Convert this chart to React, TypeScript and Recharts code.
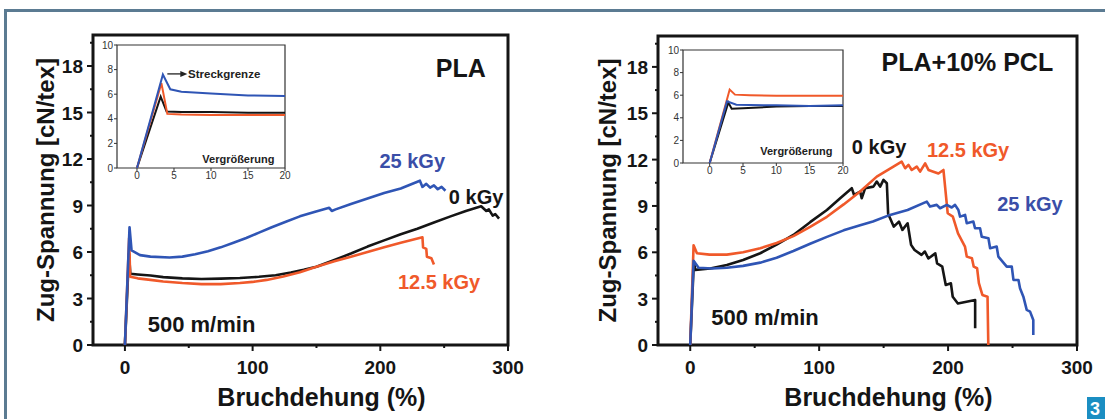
import { LineChart, Line, XAxis, YAxis, ReferenceArea, ReferenceDot } from "recharts";

type Pt = { x: number; y: number };
const pts = (arr: number[][]): Pt[] => arr.map(([x, y]) => ({ x, y }));

// PLA, main chart
const pla0 = pts([[0, 0], [3.2, 5.9], [4.2, 4.6], [10, 4.55], [20, 4.48], [30, 4.38], [45, 4.3], [60, 4.26], [75, 4.28], [90, 4.32], [105, 4.4], [118, 4.5], [130, 4.68], [140, 4.85], [150, 5.05], [163, 5.45], [177, 5.9], [190, 6.35], [203, 6.75], [216, 7.15], [229, 7.5], [242, 7.9], [255, 8.3], [267, 8.65], [279, 8.95], [283, 8.65], [285, 8.75], [288, 8.35], [290, 8.45], [293, 8.15]]);
const pla125 = pts([[0, 0], [3.3, 6.9], [4.1, 4.4], [10, 4.3], [20, 4.2], [30, 4.1], [45, 4.0], [60, 3.93], [75, 3.93], [90, 4.0], [100, 4.07], [111, 4.2], [124, 4.42], [137, 4.7], [150, 5.05], [164, 5.4], [177, 5.7], [190, 6.0], [203, 6.3], [216, 6.6], [233, 6.95], [233.5, 6.3], [236, 6.2], [236.5, 5.7], [240, 5.6], [242, 5.2]]);
const pla25 = pts([[0, 0], [3.6, 7.6], [5.2, 6.1], [11.8, 5.8], [20, 5.7], [35, 5.65], [45, 5.7], [55, 5.85], [65, 6.05], [75, 6.3], [85, 6.6], [95, 6.9], [105, 7.25], [115, 7.6], [126, 7.95], [137, 8.3], [149, 8.6], [160, 8.85], [162, 8.65], [165, 8.75], [177, 9.1], [190, 9.45], [203, 9.8], [216, 10.1], [231, 10.6], [233, 10.2], [236, 10.4], [239, 10.15], [242, 10.3], [245, 10.05], [248, 10.2], [251, 9.95]]);

// PLA, inset (Vergrößerung)
const plaIn0 = pts([[0, 0], [3.2, 5.8], [4.0, 4.6], [6, 4.55], [10, 4.55], [15, 4.5], [20, 4.5]]);
const plaIn125 = pts([[0, 0], [3.3, 6.9], [4.1, 4.4], [6, 4.35], [10, 4.3], [15, 4.3], [20, 4.3]]);
const plaIn25 = pts([[0, 0], [3.5, 7.6], [4.5, 6.4], [6, 6.2], [10, 6.05], [15, 5.9], [20, 5.85]]);

// PLA+10% PCL, main chart
const pcl0 = pts([[0, 0], [2.8, 5.4], [3.9, 4.86], [15.5, 4.95], [28.4, 5.18], [41, 5.5], [54.3, 5.94], [67, 6.5], [80, 7.12], [93, 7.95], [106, 8.74], [116.3, 9.5], [125.3, 10.15], [127.1, 9.71], [131.8, 9.93], [133, 9.5], [135.7, 10.15], [142.1, 10.25], [144.7, 10.58], [147.3, 10.25], [149.9, 10.69], [152.5, 10.47], [153.5, 8.5], [157.9, 7.66], [161.9, 7.99], [164.6, 7.45], [168.6, 7.88], [171.3, 6.48], [174, 6.15], [179.4, 5.83], [182, 6.05], [184.7, 5.6], [190.1, 5.93], [191.5, 5.28], [195.5, 5.07], [198.2, 3.88], [202.2, 3.99], [203.6, 3.12], [207.6, 2.69], [221, 2.91], [221, 1.08]]);
const pcl125 = pts([[0, 0], [2.6, 6.45], [5.2, 5.94], [15, 5.85], [28.4, 5.85], [41, 6.0], [54.3, 6.26], [67, 6.6], [80, 7.05], [93, 7.65], [106, 8.3], [119, 9.1], [131.8, 9.93], [144.7, 10.9], [157.6, 11.55], [164, 11.87], [166.7, 11.44], [169.3, 11.66], [171.8, 11.33], [175.7, 11.55], [178.3, 11.22], [182.2, 11.76], [184.8, 11.33], [188.6, 11.22], [192.5, 11.1], [196.4, 11.33], [199.7, 8.53], [203.7, 8.31], [207.7, 7.23], [213.1, 6.37], [214.5, 5.72], [218.5, 5.61], [219.9, 5.07], [222.5, 4.97], [223.9, 4.0], [226.6, 3.24], [230.6, 3.13], [231.2, 0]]);
const pcl25 = pts([[0, 0], [2.6, 5.45], [6.5, 5.0], [17, 4.95], [28.4, 5.0], [41, 5.12], [54.3, 5.33], [67, 5.65], [80, 6.08], [93, 6.55], [106, 7.0], [119, 7.42], [131.8, 7.75], [141.7, 7.99], [155, 8.42], [168.6, 8.74], [183.5, 9.28], [186, 8.96], [191.2, 9.07], [193.8, 8.85], [199, 9.07], [202.8, 8.9], [205.4, 9.07], [208, 8.74], [209.3, 8.31], [213.2, 8.42], [214.5, 7.88], [219.6, 7.99], [220.9, 7.56], [224.8, 7.56], [226.1, 7.0], [231.3, 6.91], [232.6, 6.26], [237.7, 6.37], [239, 5.72], [245.5, 5.07], [249.4, 5.07], [250.7, 4.21], [254.6, 4.21], [255.8, 3.67], [258.4, 3.13], [261, 2.27], [263.6, 2.16], [266.1, 1.62], [266.1, 0.65]]);

// PLA+10% PCL, inset
const pclIn0 = pts([[0, 0], [2.8, 5.35], [3.3, 4.8], [5, 4.85], [10, 5.0], [15, 5.05], [20, 5.05]]);
const pclIn125 = pts([[0, 0], [3.0, 6.5], [3.8, 6.05], [6, 6.0], [10, 5.95], [20, 5.95]]);
const pclIn25 = pts([[0, 0], [2.6, 5.45], [4, 5.15], [10, 5.1], [15, 5.05], [20, 5.1]]);

const mainXTicks = [0, 50, 100, 150, 200, 250, 300];
const mainYTicks = [0, 1.5, 3, 4.5, 6, 7.5, 9, 10.5, 12, 13.5, 15, 16.5, 18, 19.5];
const insetXTicks = [0, 5, 10, 15, 20];
const insetYTicks = [0, 2, 4, 6, 8, 10];

const BLACK = "#151515";
const ORANGE = "#f0592a";
const BLUE = "#2f55b5";
const FONT = "'Liberation Sans', Arial, sans-serif";

type Note = { x: number; y: number; text: string; color: string; size: number; anchor?: "start" | "middle" | "end" };

const plaNotes: Note[] = [
  { x: 263, y: 17.9, text: "PLA", color: BLACK, size: 25 },
  { x: 225, y: 11.9, text: "25 kGy", color: "#3a4ea8", size: 20 },
  { x: 275, y: 9.55, text: "0 kGy", color: BLACK, size: 20 },
  { x: 246, y: 4.06, text: "12.5 kGy", color: ORANGE, size: 20 },
  { x: 60, y: 1.3, text: "500 m/min", color: BLACK, size: 22 },
];
const pclNotes: Note[] = [
  { x: 215, y: 18.3, text: "PLA+10% PCL", color: BLACK, size: 25 },
  { x: 146.5, y: 12.8, text: "0 kGy", color: BLACK, size: 20 },
  { x: 215.5, y: 12.6, text: "12.5 kGy", color: ORANGE, size: 20 },
  { x: 263.5, y: 9.13, text: "25 kGy", color: "#3a4ea8", size: 20 },
  { x: 58, y: 1.8, text: "500 m/min", color: BLACK, size: 22 },
];
const plaInsetNotes: Note[] = [
  { x: 6.9, y: 7.65, text: "Streckgrenze", color: "#222", size: 11.5, anchor: "start" },
  { x: 13.7, y: 0.75, text: "Vergrößerung", color: "#222", size: 11 },
];
const pclInsetNotes: Note[] = [
  { x: 13, y: 1.05, text: "Vergrößerung", color: "#222", size: 11 },
];

const MainXTick = ({ x, y, payload }: any) => {
  const major = payload.value % 100 === 0;
  return (
    <g>
      <line x1={x} x2={x} y1={y} y2={y + (major ? 6 : 3)} stroke={BLACK} strokeWidth={2} />
      {major && (
        <text x={x} y={y + 29} textAnchor="middle" fontSize={19} fontWeight={700} fontFamily={FONT} fill={BLACK}>
          {payload.value}
        </text>
      )}
    </g>
  );
};

const MainYTick = ({ x, y, payload }: any) => {
  const major = payload.value % 3 === 0;
  return (
    <g>
      <line x1={x - (major ? 6 : 3)} x2={x} y1={y} y2={y} stroke={BLACK} strokeWidth={2} />
      {major && (
        <text x={x - 10} y={y + 7} textAnchor="end" fontSize={19} fontWeight={700} fontFamily={FONT} fill={BLACK}>
          {payload.value}
        </text>
      )}
    </g>
  );
};

const noteShape = (n: Note) => (props: any) => (
  <text
    x={props.cx}
    y={props.cy}
    textAnchor={n.anchor || "middle"}
    dominantBaseline="central"
    fontSize={n.size}
    fontWeight={700}
    fontFamily={FONT}
    fill={n.color}
  >
    {n.text}
  </text>
);

type PanelProps = {
  left: number;
  width: number;
  top: number;
  marginLeft: number;
  marginRight: number;
  yLabelDx: number;
  series: Pt[][];
  notes: Note[];
};

function MainPanel({ left, width, top, marginLeft, marginRight, yLabelDx, series, notes }: PanelProps) {
  const colors = [BLACK, ORANGE, BLUE];
  return (
    <div style={{ position: "absolute", left, top: 0 }}>
      <LineChart width={width} height={419} margin={{ top, right: marginRight, bottom: 24, left: marginLeft }}>
        <XAxis
          type="number"
          dataKey="x"
          domain={[-25, 300]}
          allowDataOverflow
          ticks={mainXTicks}
          interval={0}
          height={50}
          tickSize={0}
          tickMargin={0}
          axisLine={false}
          tickLine={false}
          tick={<MainXTick />}
          label={(p: any) => (
            <text
              x={p.viewBox.x + p.viewBox.width / 2 + 21}
              y={p.viewBox.y + 61}
              textAnchor="middle"
              fontSize={25}
              fontWeight={700}
              fontFamily={FONT}
              fill={BLACK}
            >
              Bruchdehung (%)
            </text>
          )}
        />
        <YAxis
          type="number"
          domain={[0, 20]}
          allowDataOverflow
          ticks={mainYTicks}
          interval={0}
          width={60}
          tickSize={0}
          tickMargin={0}
          axisLine={false}
          tickLine={false}
          tick={<MainYTick />}
          label={(p: any) => {
            const cx = p.viewBox.x + yLabelDx;
            const cy = p.viewBox.y + p.viewBox.height / 2;
            return (
              <text
                x={cx}
                y={cy}
                transform={`rotate(-90 ${cx} ${cy})`}
                textAnchor="middle"
                dominantBaseline="central"
                fontSize={24}
                fontWeight={700}
                fontFamily={FONT}
                fill={BLACK}
              >
                Zug-Spannung [cN/tex]
              </text>
            );
          }}
        />
        {series.map((d, i) => (
          <Line
            key={i}
            data={d}
            dataKey="y"
            type="linear"
            stroke={colors[i]}
            strokeWidth={2.6}
            strokeLinejoin="round"
            dot={false}
            isAnimationActive={false}
          />
        ))}
        <ReferenceArea x1={-25} x2={300} y1={0} y2={20} fill="none" stroke={BLACK} strokeWidth={3} />
        {notes.map((n, i) => (
          <ReferenceDot key={i} x={n.x} y={n.y} r={1} shape={noteShape(n)} />
        ))}
      </LineChart>
    </div>
  );
}

type InsetProps = {
  left: number;
  top: number;
  width: number;
  height: number;
  margin: { top: number; right: number; bottom: number; left: number };
  xMin: number;
  series: Pt[][];
  notes: Note[];
  arrow?: boolean;
};

function Inset({ left, top, width, height, margin, xMin, series, notes, arrow }: InsetProps) {
  const colors = [BLACK, ORANGE, BLUE];
  const tickStyle = { fontSize: 10, fill: "#333", fontFamily: FONT };
  return (
    <div style={{ position: "absolute", left, top }}>
      <LineChart width={width} height={height} margin={margin}>
        <XAxis
          type="number"
          dataKey="x"
          domain={[xMin, 20]}
          allowDataOverflow
          ticks={insetXTicks}
          interval={0}
          height={16}
          tickSize={3}
          tickMargin={1}
          axisLine={false}
          tick={tickStyle}
          stroke="#333"
        />
        <YAxis
          type="number"
          domain={[0, 10]}
          allowDataOverflow
          ticks={insetYTicks}
          interval={0}
          width={20}
          tickSize={3}
          tickMargin={1}
          axisLine={false}
          tick={tickStyle}
          stroke="#333"
        />
        <ReferenceArea x1={xMin} x2={20} y1={0} y2={10} fill="#fff" fillOpacity={1} stroke="#333" strokeWidth={1.2} />
        {series.map((d, i) => (
          <Line
            key={i}
            data={d}
            dataKey="y"
            type="linear"
            stroke={colors[i]}
            strokeWidth={2}
            dot={false}
            isAnimationActive={false}
          />
        ))}
        {arrow && (
          <ReferenceDot
            x={4.1}
            y={7.65}
            r={1}
            shape={(p: any) => (
              <g>
                <line x1={p.cx} x2={p.cx + 15} y1={p.cy} y2={p.cy} stroke="#222" strokeWidth={1.3} />
                <path d={`M${p.cx + 20},${p.cy} L${p.cx + 13},${p.cy - 3} L${p.cx + 13},${p.cy + 3} Z`} fill="#222" />
              </g>
            )}
          />
        )}
        {notes.map((n, i) => (
          <ReferenceDot key={i} x={n.x} y={n.y} r={1} shape={noteShape(n)} />
        ))}
      </LineChart>
    </div>
  );
}

export default function App() {
  return (
    <div
      style={{
        position: "absolute",
        left: 0,
        top: 0,
        width: 1105,
        height: 419,
        background: "#fff",
        overflow: "hidden",
        fontFamily: FONT,
      }}
    >
      <div style={{ position: "absolute", left: 4, top: 9, width: 1101, height: 2.5, background: "#5b7b92" }} />
      <div style={{ position: "absolute", left: 4, top: 9, width: 2.5, height: 410, background: "#5b7b92" }} />

      <MainPanel left={0} width={560} top={35} marginLeft={33} marginRight={52} yLabelDx={12} series={[pla0, pla125, pla25]} notes={plaNotes} />
      <MainPanel left={560} width={545} top={36} marginLeft={38} marginRight={28} yLabelDx={9} series={[pcl0, pcl125, pcl25]} notes={pclNotes} />

      <Inset
        left={90}
        top={35}
        width={205}
        height={155}
        margin={{ top: 10, right: 10, bottom: 6, left: 7 }}
        xMin={-2.7}
        series={[plaIn0, plaIn125, plaIn25]}
        notes={plaInsetNotes}
        arrow
      />
      <Inset
        left={655}
        top={40}
        width={200}
        height={150}
        margin={{ top: 10, right: 12, bottom: 11, left: 8 }}
        xMin={-4}
        series={[pclIn0, pclIn125, pclIn25]}
        notes={pclInsetNotes}
      />

      <div
        style={{
          position: "absolute",
          left: 1087,
          top: 397,
          width: 18,
          height: 22,
          background: "#1b8ec2",
          color: "#fff",
          fontWeight: 700,
          fontSize: 18,
          lineHeight: "24px",
          paddingLeft: 3,
          boxSizing: "border-box",
        }}
      >
        3
      </div>
    </div>
  );
}
